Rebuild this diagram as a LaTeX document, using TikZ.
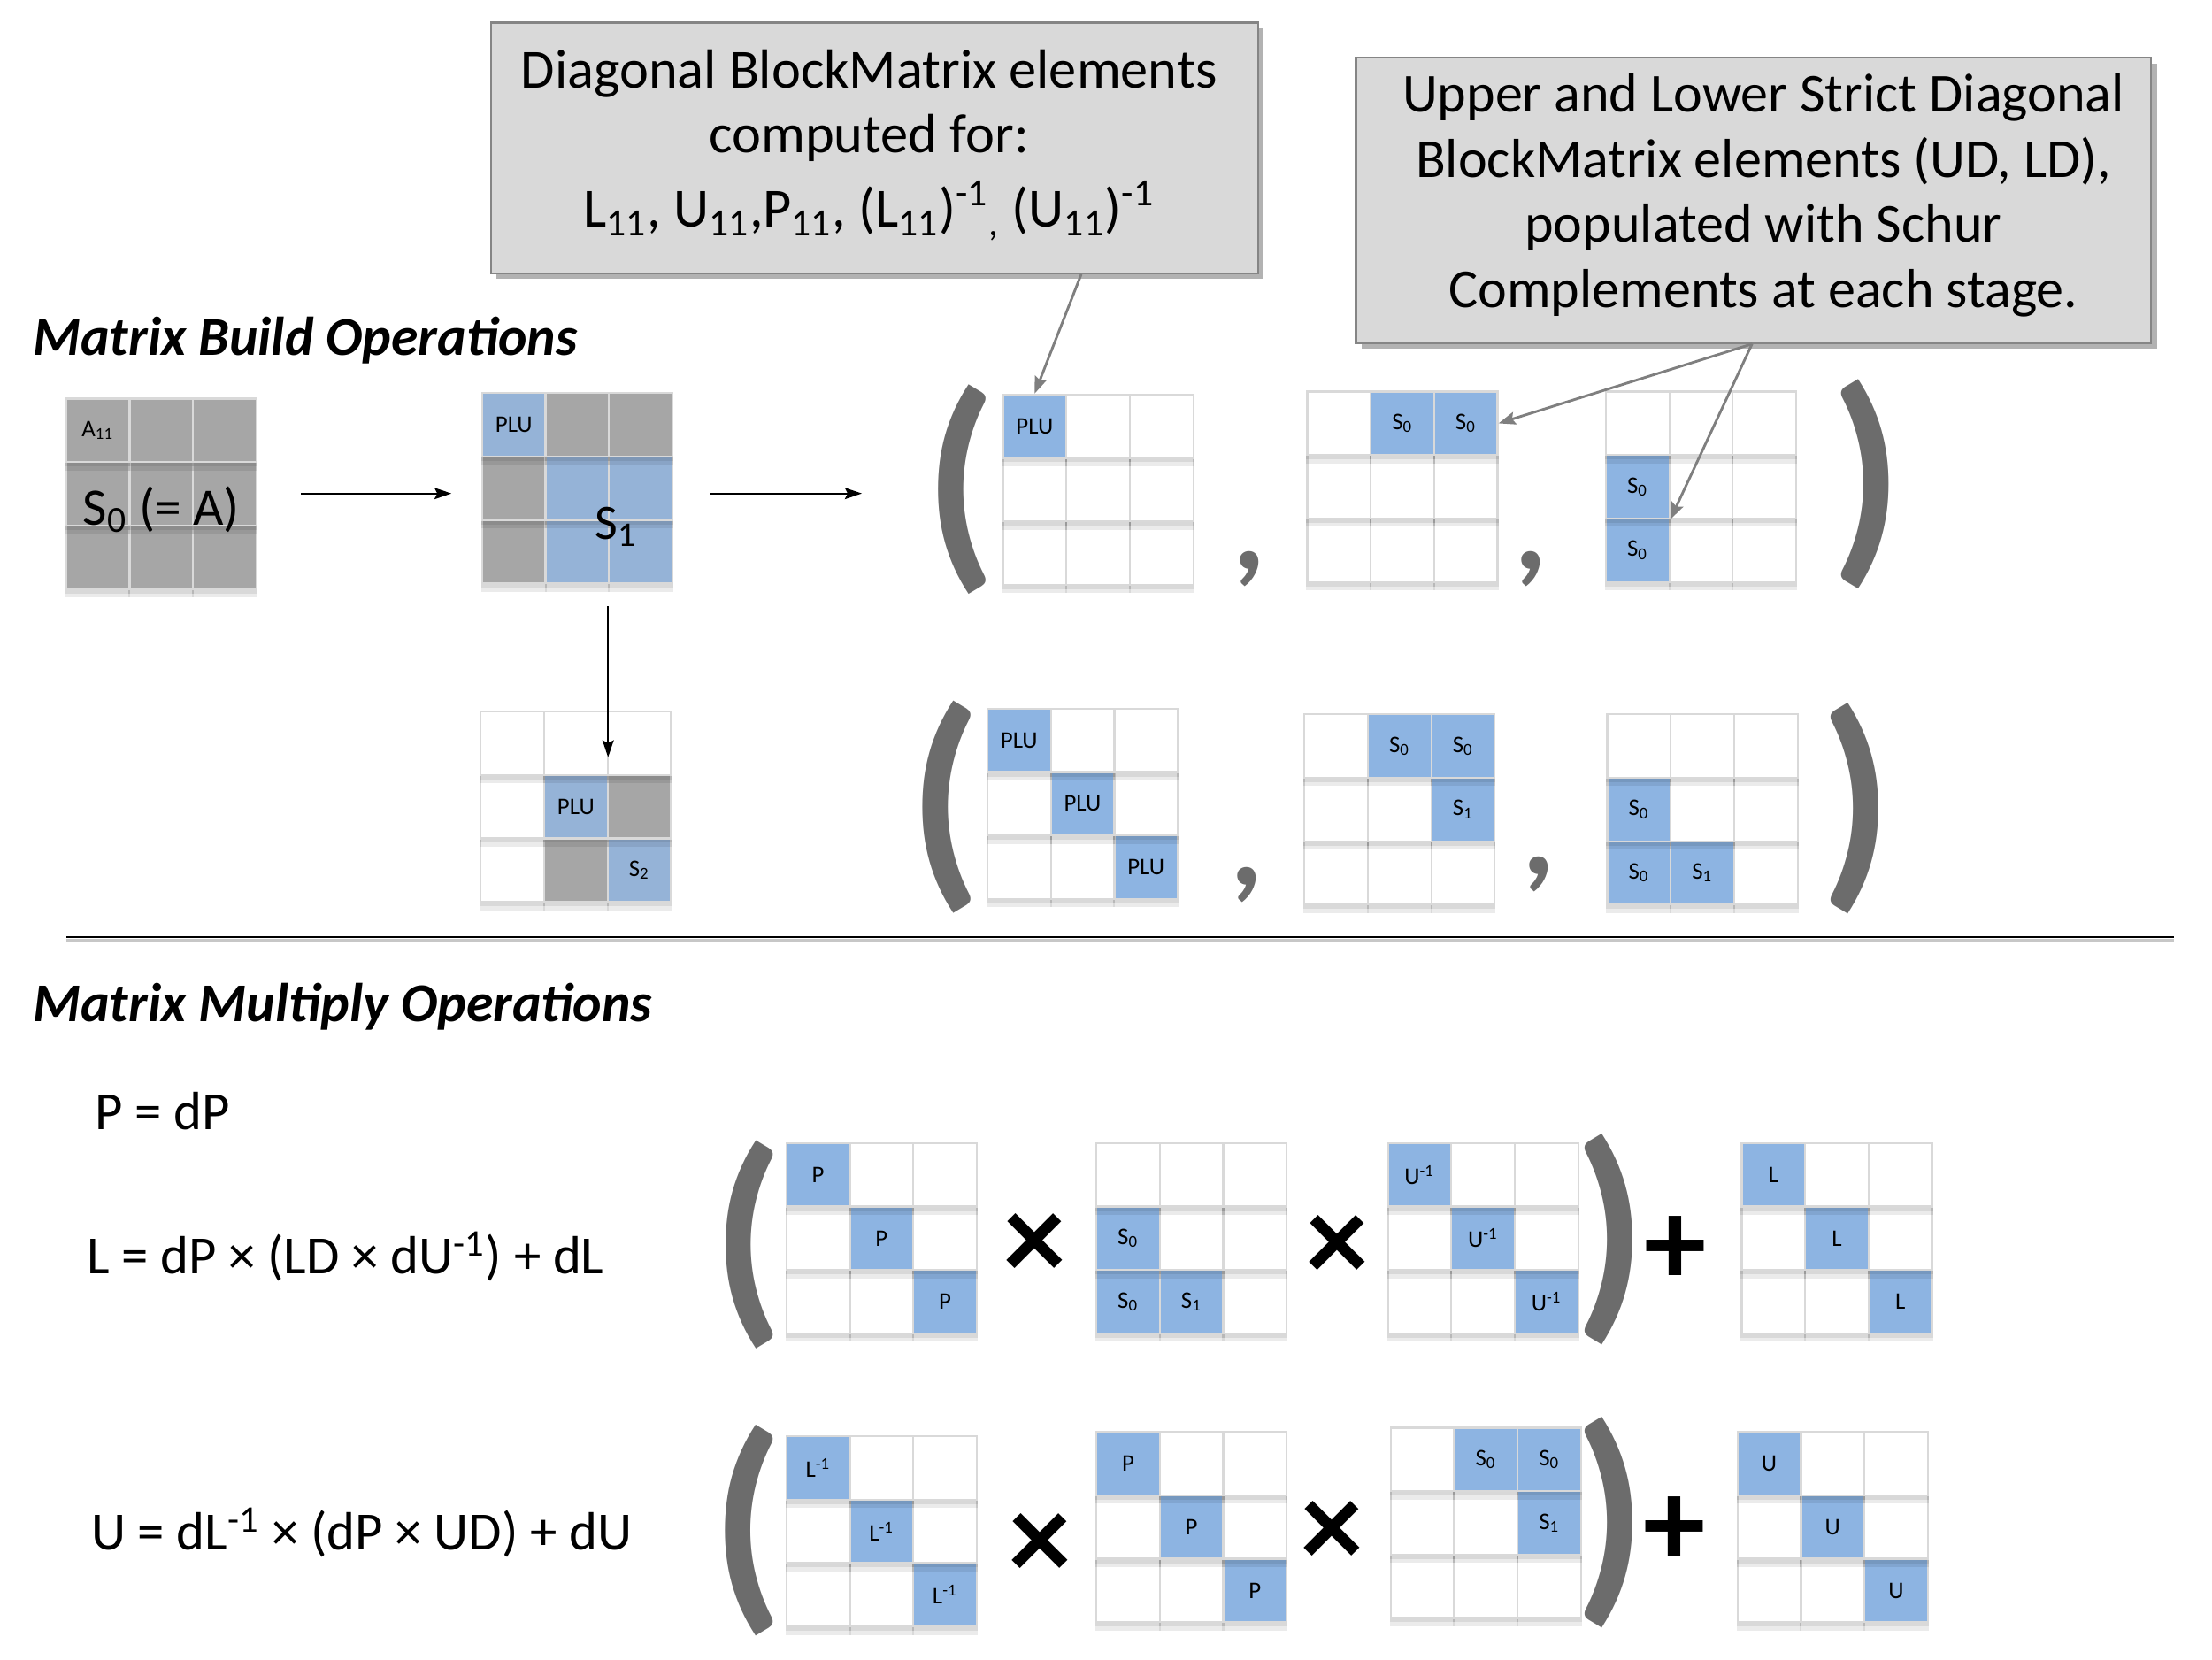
\documentclass[tikz,border=0pt]{standalone}
\usepackage{fontspec}
\setmainfont{Carlito}
\usetikzlibrary{arrows.meta,calc,shadows}
\definecolor{cblue}{HTML}{8DB4E2}
\definecolor{cbluetwo}{HTML}{95B3D7}
\definecolor{cgray}{HTML}{A6A6A6}
\definecolor{cborder}{HTML}{D9D9D9}
\definecolor{calfill}{HTML}{D9D9D9}
\definecolor{calline}{HTML}{858585}
\definecolor{pgray}{HTML}{6C6C6C}
\definecolor{agray}{HTML}{7F7F7F}
\tikzset{
  cell/.style={draw=cborder, line width=0.7pt, fill=white, minimum size=22.4pt, inner sep=0pt, anchor=north west, font=\fontsize{8.4}{9}\selectfont},
  matbox/.style={inner sep=0pt, minimum size=67.25pt, anchor=north west},
  callout/.style={fill=calfill, draw=calline, line width=0.75pt, inner sep=0pt, drop shadow={shadow xshift=2pt, shadow yshift=-2pt, fill=black, opacity=0.3}},
  ctext/.style={align=center, inner sep=0pt},
  heading/.style={anchor=base west, inner sep=0pt, font=\fontsize{19.3}{22}\selectfont\bfseries\itshape},
  formula/.style={anchor=base west, inner sep=0pt, font=\fontsize{19}{23}\selectfont},
  bigtext/.style={anchor=base, inner sep=0pt, font=\fontsize{18.6}{20}\selectfont},
  bigparen/.style={text=pgray, inner sep=0pt, font=\bfseries},
  sepcomma/.style={text=pgray, inner sep=0pt, font=\fontsize{45}{45}\selectfont\bfseries},
  opsign/.style={inner sep=0pt, font=\fontsize{44}{44}\selectfont\bfseries},
  barrow/.style={line width=0.7pt, -{Stealth[length=6pt,width=4pt,inset=1pt]}},
  garrow/.style={draw=agray, line width=0.9pt, -{Stealth[length=6pt,width=4.5pt,inset=1pt]}, color=agray},
}
% #1 name, #2 x, #3 y (top-left), #4 list row/col/colour/label
\newcommand\bmat[4]{%
  \node[matbox] (#1) at (#2,#3) {};
  \foreach \r in {1,2,3}{\foreach \c in {1,2,3}{%
    \node[cell] (#1-\r-\c) at ({#2+44.83*(\c-1)},{#3+44.83*(\r-1)}) {};
  }}
  \foreach \r/\c/\col/\lab in {#4}{%
    \node[cell, fill=\col] (#1-\r-\c) at ({#2+44.83*(\c-1)},{#3+44.83*(\r-1)}) {\lab};
  }
  \foreach \r in {1,2,3}{\foreach \c in {1,2,3}{%
    \fill[black, opacity=0.08] (#1-\r-\c.south west) rectangle ([yshift=-2.6pt]#1-\r-\c.south east);
    \fill[black, opacity=0.08] (#1-\r-\c.south west) rectangle ([yshift=-1.2pt]#1-\r-\c.south east);
  }}
}
\newcommand\sz{S\textsubscript{0}}
\newcommand\so{S\textsubscript{1}}
\begin{document}
\begin{tikzpicture}[x=0.5pt,y=-0.5pt]
\useasboundingbox (0,0) rectangle (1563,1172.25);

% callouts
\node[callout, minimum width=271pt, minimum height=88.5pt] (c1) at (618,104.5) {};
\node[ctext, font=\fontsize{19.5}{22.75}\selectfont] (c1t) at (614,102.5)
  {Diagonal BlockMatrix elements\\computed for:\\[3.5pt]
   L\textsubscript{11}, U\textsubscript{11},P\textsubscript{11}, (L\textsubscript{11})\textsuperscript{-1}\textsubscript{,} (U\textsubscript{11})\textsuperscript{-1}};
\node[callout, minimum width=281pt, minimum height=100.75pt] (c2) at (1239,141.5) {};
\node[ctext, font=\fontsize{19.4}{23}\selectfont] (c2t) at (1246,138)
  {Upper and Lower Strict Diagonal\\BlockMatrix elements (UD, LD),\\populated with Schur\\Complements at each stage.};

% headings
\node[heading] (h1) at (23,251) {Matrix Build Operations};
\node[heading] (h2) at (23,722) {Matrix Multiply Operations};

% build row 1
\bmat{mA}{46}{281}{1/1/cgray/A\textsubscript{11},1/2/cgray/{},1/3/cgray/{},2/1/cgray/{},2/2/cgray/{},2/3/cgray/{},3/1/cgray/{},3/2/cgray/{},3/3/cgray/{}}
\node[bigtext] (s0a) at (114,371) {S\textsubscript{0} (= A)};
\bmat{mS1}{340}{277}{1/1/cbluetwo/PLU,1/2/cgray/{},1/3/cgray/{},2/1/cgray/{},3/1/cgray/{},2/2/cbluetwo/{},2/3/cbluetwo/{},3/2/cbluetwo/{},3/3/cbluetwo/{}}
\node[bigtext, font=\fontsize{17.5}{20}\selectfont] (s1t) at (435.5,381) {S\textsubscript{1}};

\node[bigparen] (p1l) at (679,346) {\resizebox*{!}{74pt}{(}};
\bmat{m1a}{708}{278}{1/1/cblue/PLU}
\node[sepcomma] (k1) at (883,402) {,};
\bmat{m1b}{923}{276}{1/2/cblue/\sz,1/3/cblue/\sz}
\node[sepcomma] (k2) at (1081.5,402) {,};
\bmat{m1c}{1134}{276}{2/1/cblue/\sz,3/1/cblue/\sz}
\node[bigparen] (p1r) at (1319,342) {\resizebox*{!}{74pt}{)}};

% build row 2
\bmat{mR2}{339}{502}{2/2/cbluetwo/PLU,2/3/cgray/{},3/2/cgray/{},3/3/cbluetwo/S\textsubscript{2}}
\node[bigparen] (p2l) at (668,570) {\resizebox*{!}{75pt}{(}};
\bmat{m2a}{697}{500}{1/1/cblue/PLU,2/2/cblue/PLU,3/3/cblue/PLU}
\node[sepcomma] (k3) at (881,625.5) {,};
\bmat{m2b}{921}{504}{1/2/cblue/\sz,1/3/cblue/\sz,2/3/cblue/\so}
\node[sepcomma] (k4) at (1087,618) {,};
\bmat{m2c}{1135}{504}{2/1/cblue/\sz,3/1/cblue/\sz,3/2/cblue/\so}
\node[bigparen] (p2r) at (1312,571.5) {\resizebox*{!}{74.5pt}{)}};

% arrows (build)
\draw[barrow] ([xshift=15.75pt]mA.east) -- ([xshift=-10.5pt]mA.east -| mS1.west);
\draw[barrow] ([xshift=13.25pt]mS1.east |- mA.east) -- ([xshift=-49.5pt]m1a.west |- mA.east);
\draw[barrow] ([yshift=-7.75pt]mS1-3-3.south west) -- ([yshift=-16.5pt]mS1-3-3.south west |- mR2-1-3.north);
\draw[garrow] ([xshift=73pt]c1.south) -- (m1a-1-1.north);
\draw[garrow] ([xshift=-0.5pt]c2.south) -- (m1b-1-3.east);
\draw[garrow] ([xshift=-0.5pt]c2.south) -- (m1c-2-1.south east);

% separator
\draw[black!22, line width=1.2pt] (47,664.5) -- (1536,664.5);
\draw[black, line width=0.85pt] (47,662) -- (1536,662);

% formulas
\node[formula] (f1) at (67,798) {P = dP};
\node[formula] (f2) at (61,900) {L = dP × (LD × dU\textsuperscript{-1}) + dL};
\node[formula] (f3) at (64,1095) {U = dL\textsuperscript{-1} × (dP × UD) + dU};

% multiply row L
\node[bigparen] (pLl) at (528.5,879.5) {\resizebox*{!}{73.5pt}{(}};
\bmat{mL1}{555}{807}{1/1/cblue/P,2/2/cblue/P,3/3/cblue/P}
\node[opsign] (x1) at (731,881) {×};
\bmat{mL2}{774}{807}{2/1/cblue/\sz,3/1/cblue/\sz,3/2/cblue/\so}
\node[opsign] (x2) at (945,882) {×};
\bmat{mL3}{980}{807}{1/1/cblue/U\textsuperscript{-1},2/2/cblue/U\textsuperscript{-1},3/3/cblue/U\textsuperscript{-1}}
\node[bigparen] (pLr) at (1138,875.5) {\resizebox*{!}{74.5pt}{)}};
\node[opsign] (pl1) at (1184,884) {+};
\bmat{mL4}{1230}{807}{1/1/cblue/L,2/2/cblue/L,3/3/cblue/L}

% multiply row U
\node[bigparen] (pUl) at (528.5,1081.5) {\resizebox*{!}{74.5pt}{(}};
\bmat{mU1}{555}{1014}{1/1/cblue/L\textsuperscript{-1},2/2/cblue/L\textsuperscript{-1},3/3/cblue/L\textsuperscript{-1}}
\node[opsign] (x3) at (735,1093) {×};
\bmat{mU2}{774}{1011}{1/1/cblue/P,2/2/cblue/P,3/3/cblue/P}
\node[opsign] (x4) at (941,1084) {×};
\bmat{mU3}{982}{1008}{1/2/cblue/\sz,1/3/cblue/\sz,2/3/cblue/\so}
\node[bigparen] (pUr) at (1138,1075.5) {\resizebox*{!}{74.5pt}{)}};
\node[opsign] (pl2) at (1183,1082) {+};
\bmat{mU4}{1227}{1011}{1/1/cblue/U,2/2/cblue/U,3/3/cblue/U}
\end{tikzpicture}
\end{document}
